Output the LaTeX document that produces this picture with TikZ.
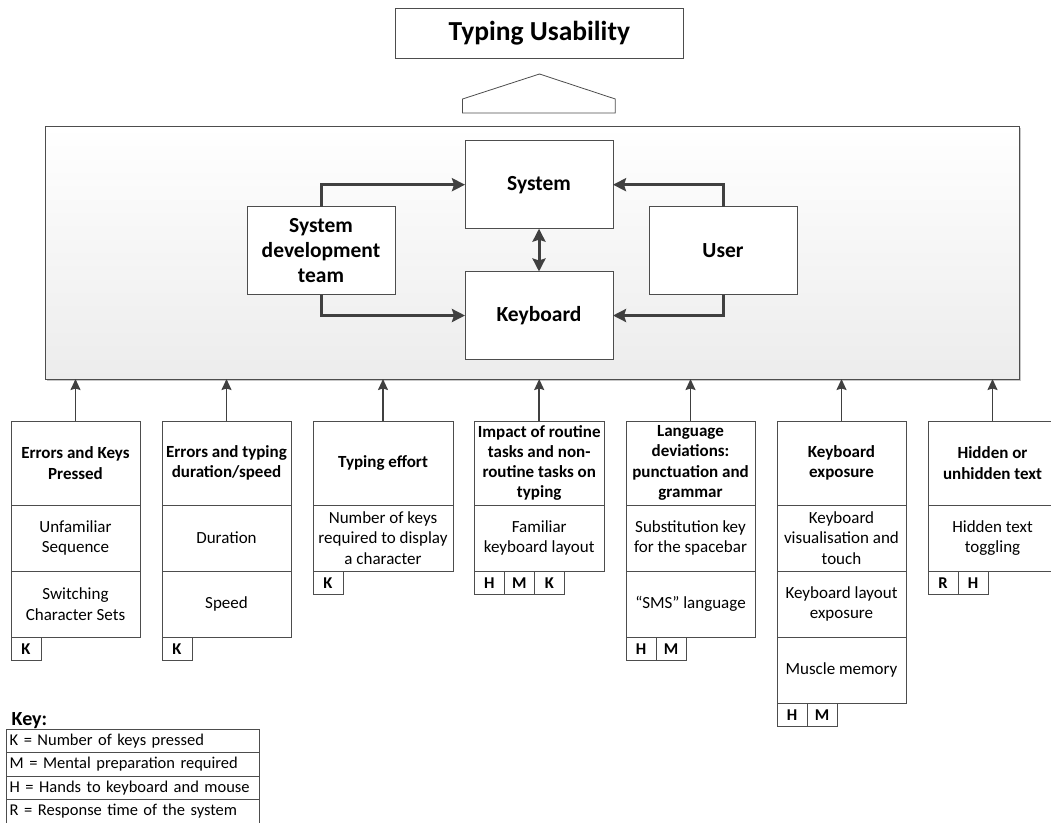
\documentclass[tikz,border=0pt]{standalone}
\usepackage{fontspec}
\setmainfont{Carlito}
\usetikzlibrary{arrows.meta,shadows}
\definecolor{edge}{HTML}{4D4D4D}
\definecolor{flow}{HTML}{404040}
\definecolor{panel}{HTML}{ECECEC}
\begin{document}
\begin{tikzpicture}[x=1pt,y=-1pt,
  box/.style={draw=edge, line width=0.8pt, fill=white, inner sep=2pt, outer sep=0pt, align=center},
  mainbox/.style={box, minimum width=148pt, minimum height=88pt, font=\fontsize{21.5}{25}\selectfont\bfseries},
  hdr/.style={box, anchor=north west, minimum height=84pt, font=\fontsize{17}{20.3}\selectfont\bfseries},
  cell/.style={box, anchor=north west, minimum height=66pt, font=\fontsize{17}{20.3}\selectfont},
  tag/.style={box, anchor=north west, minimum width=30pt, minimum height=23.5pt, inner sep=0pt, font=\fontsize{16.5}{19}\selectfont\bfseries},
  keyrow/.style={box, anchor=north west, minimum height=23.5pt, text width=247pt, inner xsep=3pt, inner ysep=0pt, align=left, font=\fontsize{16.5}{20}\selectfont},
  bigtip/.tip={Stealth[length=13pt,width=13pt,inset=2pt]},
  bigflow/.style={draw=flow, line width=3pt, -bigtip},
  twoflow/.style={draw=flow, line width=3pt, bigtip-bigtip},
  upflow/.style={draw=flow, line width=1.6pt, -{Stealth[length=11pt,width=10pt,inset=1.5pt]}}
]
\useasboundingbox (0,0) rectangle (1051,822);

% goal and generalisation symbol
\node[box, minimum width=287.5pt, minimum height=50.5pt, font=\fontsize{27.5}{30}\selectfont\bfseries] (title) at (539.3,33.5) {Typing Usability};
\draw[draw=edge, line width=0.8pt, fill=white] (462.5,113) -- (462.5,99) -- (539.5,74) -- (615.3,99) -- (615.3,113) -- cycle;

% central panel
\node[draw=edge, line width=1pt, top color=white, bottom color=panel, minimum width=973.8pt, minimum height=253pt, outer sep=0pt,
      drop shadow={shadow xshift=1.6pt, shadow yshift=-1.6pt, fill=black, opacity=0.22}] (frame) at (532.5,252.5) {};

\node[mainbox] (system) at (539,184.7) {System};
\node[mainbox] (keyboard) at (539,315.5) {Keyboard};
\node[mainbox] (sdt) at (321,250.5) {System\\development\\team};
\node[mainbox] (user) at (723,250.5) {User};

\draw[bigflow] (sdt.north) |- (system.west);
\draw[bigflow] (sdt.south) |- (keyboard.west);
\draw[bigflow] (user.north) |- (system.east);
\draw[bigflow] (user.south) |- (keyboard.east);
\draw[twoflow] (system.south) -- (keyboard.north);

% column 1
\node[hdr, minimum width=129pt] (c1h) at (11,421) {Errors and Keys\\Pressed};
\node[cell, minimum width=129pt] (c1a) at (c1h.south west) {Unfamiliar\\Sequence};
\node[cell, minimum width=129pt] (c1b) at (c1a.south west) {Switching\\Character Sets};
\node[tag] (c1t1) at (c1b.south west) {K};

% column 2
\node[hdr, minimum width=129pt] (c2h) at (162,421) {Errors and typing\\duration/speed};
\node[cell, minimum width=129pt] (c2a) at (c2h.south west) {Duration};
\node[cell, minimum width=129pt] (c2b) at (c2a.south west) {Speed};
\node[tag] (c2t1) at (c2b.south west) {K};

% column 3
\node[hdr, minimum width=140pt] (c3h) at (313,421) {Typing effort};
\node[cell, minimum width=140pt] (c3a) at (c3h.south west) {Number of keys\\required to display\\a character};
\node[tag] (c3t1) at (c3a.south west) {K};

% column 4
\node[hdr, minimum width=129.6pt] (c4h) at (474.4,421) {Impact of routine\\tasks and non-\\routine tasks on\\typing};
\node[cell, minimum width=129.6pt] (c4a) at (c4h.south west) {Familiar\\keyboard layout};
\node[tag] (c4t1) at (c4a.south west) {H};
\node[tag] (c4t2) at (c4t1.north east) {M};
\node[tag] (c4t3) at (c4t2.north east) {K};

% column 5
\node[hdr, minimum width=129pt] (c5h) at (626,421) {Language\\deviations:\\punctuation and\\grammar};
\node[cell, minimum width=129pt] (c5a) at (c5h.south west) {Substitution key\\for the spacebar};
\node[cell, minimum width=129pt] (c5b) at (c5a.south west) {“SMS” language};
\node[tag] (c5t1) at (c5b.south west) {H};
\node[tag] (c5t2) at (c5t1.north east) {M};

% column 6
\node[hdr, minimum width=129pt] (c6h) at (777,421) {Keyboard\\exposure};
\node[cell, minimum width=129pt] (c6a) at (c6h.south west) {Keyboard\\visualisation and\\touch};
\node[cell, minimum width=129pt] (c6b) at (c6a.south west) {Keyboard layout\\exposure};
\node[cell, minimum width=129pt] (c6c) at (c6b.south west) {Muscle memory};
\node[tag] (c6t1) at (c6c.south west) {H};
\node[tag] (c6t2) at (c6t1.north east) {M};

% column 7
\node[hdr, minimum width=129pt] (c7h) at (928,421) {Hidden or\\unhidden text};
\node[cell, minimum width=129pt] (c7a) at (c7h.south west) {Hidden text\\toggling};
\node[tag] (c7t1) at (c7a.south west) {R};
\node[tag] (c7t2) at (c7t1.north east) {H};

% contributions into the panel
\foreach \c in {c1h,c2h,c3h,c4h,c5h,c6h,c7h}
  \draw[upflow] (\c.north) -- (\c.north |- frame.south);

% key
\node[anchor=base west, inner sep=0pt, font=\fontsize{20}{24}\selectfont\bfseries] (keytitle) at (11.5,725.5) {Key:};
\node[keyrow] (k1) at (6.7,729.3) {K = Number of keys pressed};
\node[keyrow] (k2) at (k1.south west) {M = Mental preparation required};
\node[keyrow] (k3) at (k2.south west) {H = Hands to keyboard and mouse};
\node[keyrow] (k4) at (k3.south west) {R = Response time of the system};
\end{tikzpicture}
\end{document}
